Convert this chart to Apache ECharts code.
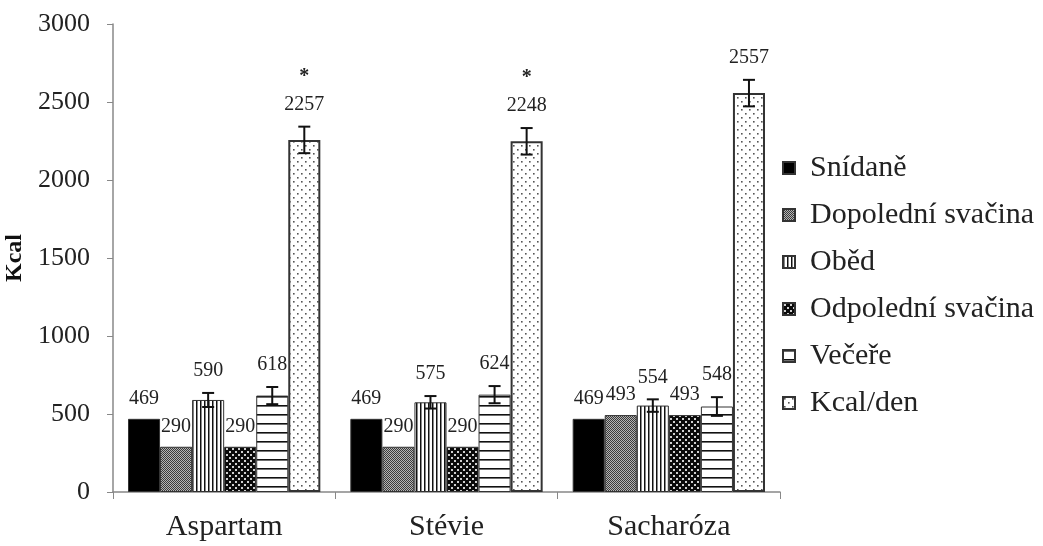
<!DOCTYPE html>
<html>
<head>
<meta charset="utf-8">
<script src="https://cdn.jsdelivr.net/npm/echarts@6/dist/echarts.min.js"></script>
<style>
html,body{margin:0;padding:0;background:#fff;}
#chart{width:1043px;height:546px;}
</style>
</head>
<body>
<div id="chart"></div>
<script>
// ---- data ----
var categories = ['Aspartam', 'Stévie', 'Sacharóza'];
var seriesNames = ['Snídaně', 'Dopolední svačina', 'Oběd', 'Odpolední svačina', 'Večeře', 'Kcal/den'];
var snidane   = [469, 469, 469];
var dopoledni = [290, 290, 493];
var obed      = [590, 575, 554];
var odpoledni = [290, 290, 493];
var vecere    = [618, 624, 548];
var kcalDen   = [2257, 2248, 2557];
var snidaneErr   = [0, 0, 0];
var dopoledniErr = [0, 0, 0];
var obedErr      = [45, 40, 40];
var odpoledniErr = [0, 0, 0];
var vecereErr    = [55, 55, 60];
var kcalDenErr   = [85, 85, 85];
var kcalDenStars = ['*', '*', ''];
var yTicks = [0, 500, 1000, 1500, 2000, 2500, 3000];

var values = [snidane, dopoledni, obed, odpoledni, vecere, kcalDen];
var errors = [snidaneErr, dopoledniErr, obedErr, odpoledniErr, vecereErr, kcalDenErr];
var stars  = [['', '', ''], ['', '', ''], ['', '', ''], ['', '', ''], ['', '', ''], kcalDenStars];

// ---- patterns ----
function canvasOf(w, h, draw) {
  var c = document.createElement('canvas');
  c.width = w; c.height = h;
  var ctx = c.getContext('2d');
  draw(ctx, w, h);
  return c;
}
var patterns = [
  '#000000',
  { image: canvasOf(2, 2, function (g) { g.fillStyle = '#b4b4b4'; g.fillRect(0, 0, 2, 2); g.fillStyle = '#3a3a3a'; g.fillRect(0, 0, 1, 1); g.fillRect(1, 1, 1, 1); }), repeat: 'repeat' },
  { image: canvasOf(4, 4, function (g) { g.fillStyle = '#ffffff'; g.fillRect(0, 0, 4, 4); g.fillStyle = '#111'; g.fillRect(0, 0, 1, 4); g.fillStyle = '#888'; g.fillRect(1, 0, 1, 4); }), repeat: 'repeat' },
  { image: canvasOf(6, 6, function (g) { g.fillStyle = '#0a0a0a'; g.fillRect(0, 0, 6, 6); g.fillStyle = '#d0d0d0'; g.fillRect(1, 1, 2, 2); g.fillRect(4, 4, 2, 2); }), repeat: 'repeat' },
  { image: canvasOf(4, 9, function (g) { g.fillStyle = '#ffffff'; g.fillRect(0, 0, 4, 9); g.fillStyle = '#111'; g.fillRect(0, 0, 4, 1.6); }), repeat: 'repeat' },
  { image: canvasOf(8, 8, function (g) { g.fillStyle = '#ffffff'; g.fillRect(0, 0, 8, 8); g.fillStyle = '#555'; g.fillRect(1, 1, 1.6, 1.6); g.fillRect(5, 5, 1.6, 1.6); }), repeat: 'repeat' }
];
var borderWidths = [1, 1, 1, 1, 1, 2];

var CAT_GAP = 0.135;
var FONT = '"Liberation Serif", "Times New Roman", serif';

var chart = echarts.init(document.getElementById('chart'));
var series = [];
seriesNames.forEach(function (name, k) {
  series.push({
    name: name,
    type: 'bar',
    data: values[k],
    barGap: '0%',
    barCategoryGap: (CAT_GAP * 100) + '%',
    itemStyle: { color: patterns[k], borderColor: '#333', borderWidth: borderWidths[k] },
    emphasis: { disabled: true },
    silent: true
  });
});
seriesNames.forEach(function (name, k) {
  var data = values[k].map(function (v, i) { return [i, v, errors[k][i]]; });
  series.push({
    type: 'custom',
    silent: true,
    z: 5,
    data: data,
    renderItem: function (params, api) {
      var cat = api.value(0), val = api.value(1), err = api.value(2);
      var catW = api.size([1, 0])[0];
      var bw = catW * (1 - CAT_GAP) / seriesNames.length;
      var cx = api.coord([cat, 0])[0] + (k - (seriesNames.length - 1) / 2) * bw;
      var yTop = api.coord([cat, val + err])[1];
      var yBot = api.coord([cat, val - err])[1];
      var children = [];
      if (err > 0) {
        var cap = 6;
        var st = { stroke: '#111', lineWidth: 2 };
        children.push({ type: 'line', shape: { x1: cx, y1: yTop, x2: cx, y2: yBot }, style: st });
        children.push({ type: 'line', shape: { x1: cx - cap, y1: yTop, x2: cx + cap, y2: yTop }, style: st });
        children.push({ type: 'line', shape: { x1: cx - cap, y1: yBot, x2: cx + cap, y2: yBot }, style: st });
      }
      var gap = err > 0 ? 12 : 10;
      children.push({
        type: 'text',
        style: { text: String(val), x: cx, y: yTop - gap, align: 'center', verticalAlign: 'bottom', font: '20px ' + FONT, fill: '#222' }
      });
      var s = stars[k][cat];
      if (s) {
        children.push({
          type: 'text',
          style: { text: s, x: cx, y: yTop - gap - 28, align: 'center', verticalAlign: 'bottom', font: 'bold 20px ' + FONT, fill: '#222' }
        });
      }
      return { type: 'group', children: children };
    }
  });
});

chart.setOption({
  animation: false,
  backgroundColor: '#ffffff',
  grid: { left: 113, right: 263, top: 24, bottom: 54, containLabel: false, outerBoundsMode: 'none' },
  legend: {
    orient: 'vertical',
    left: 782,
    top: 153,
    padding: 0,
    itemWidth: 12,
    itemHeight: 12,
    itemGap: 17,
    icon: 'rect',
    data: seriesNames,
    textStyle: { fontFamily: FONT, fontSize: 30, color: '#222', lineHeight: 26, padding: [0, 0, 0, 10] },
    selectedMode: false
  },
  xAxis: {
    type: 'category',
    data: categories,
    axisLine: { lineStyle: { color: '#888', width: 1.5 } },
    axisTick: { show: true, length: 7, lineStyle: { color: '#888' } },
    axisLabel: { fontFamily: FONT, fontSize: 30, color: '#222', margin: 20 }
  },
  yAxis: {
    type: 'value',
    min: yTicks[0],
    max: yTicks[yTicks.length - 1],
    interval: yTicks[1] - yTicks[0],
    name: 'Kcal',
    nameLocation: 'middle',
    nameGap: 83,
    nameTextStyle: { fontFamily: FONT, fontSize: 24, fontWeight: 'bold', color: '#111' },
    splitLine: { show: false },
    axisLine: { show: true, lineStyle: { color: '#888', width: 1.5 } },
    axisTick: { show: true, length: 6, lineStyle: { color: '#888' } },
    axisLabel: { fontFamily: FONT, fontSize: 26, color: '#222', margin: 23, formatter: function (v) { return String(v); } }
  },
  series: series
});
</script>
</body>
</html>
